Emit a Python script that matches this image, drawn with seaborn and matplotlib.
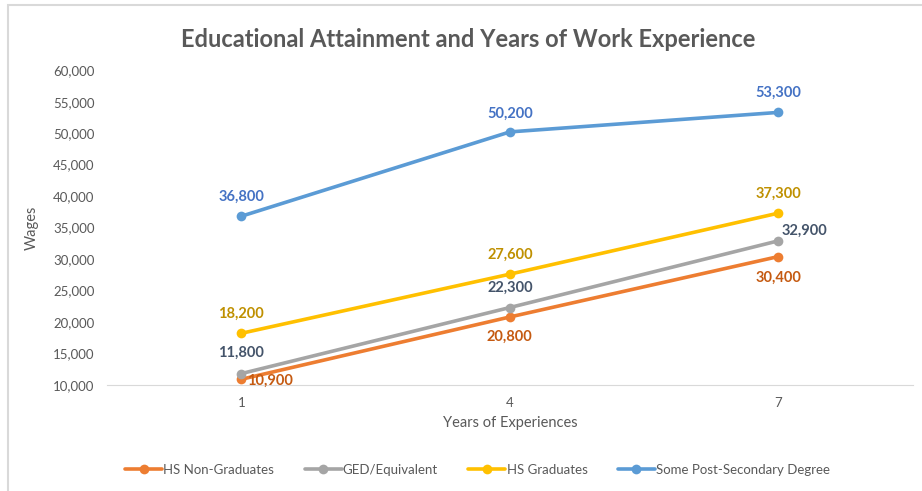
import pandas as pd
import matplotlib
matplotlib.use("Agg")
import matplotlib.pyplot as plt
import seaborn as sns

years = ["1", "4", "7"]
series_names = ["HS Non-Graduates", "GED/Equivalent", "HS Graduates", "Some Post-Secondary Degree"]
hs_non_grad = [10900, 20800, 30400]
ged_equiv = [11800, 22300, 32900]
hs_grad = [18200, 27600, 37300]
post_secondary = [36800, 50200, 53300]

line_colors = ["#ED7D31", "#A5A5A5", "#FFC000", "#5B9BD5"]
label_colors = ["#C55A11", "#44546A", "#BF9000", "#4472C4"]

sns.set_style("white")
plt.rcParams['font.family'] = ['Lato', 'DejaVu Sans']

values = [hs_non_grad, ged_equiv, hs_grad, post_secondary]
rows = []
for name, vals in zip(series_names, values):
    for i, v in enumerate(vals):
        rows.append({"pos": i, "series": name, "wage": v})
df = pd.DataFrame(rows)

fig = plt.figure(figsize=(9.22, 4.91), dpi=100)
ax = fig.add_axes([0.116, 0.216, 0.874, 0.641])

sns.lineplot(data=df, x="pos", y="wage", hue="series", hue_order=series_names,
             palette=line_colors, marker="o", markersize=7, markeredgewidth=0,
             linewidth=2.6, ax=ax)

# data label offsets in points (dx, dy)
offsets = {
    "HS Non-Graduates": [(21, -1), (0, -14), (0, -15)],
    "GED/Equivalent": [(0, 15), (0, 14), (19, 7)],
    "HS Graduates": [(0, 14), (0, 14), (0, 14)],
    "Some Post-Secondary Degree": [(0, 14), (0, 13), (0, 14)],
}
for name, vals, lc in zip(series_names, values, label_colors):
    for i, v in enumerate(vals):
        dx, dy = offsets[name][i]
        ax.annotate(f"{v:,}", (i, v), xytext=(dx, dy), textcoords="offset points",
                    ha="center", va="center", color=lc, fontsize=10.5, fontweight="bold")

ax.set_xlim(-0.5, 2.5)
ax.set_ylim(10000, 60000)
ax.set_xticks(range(len(years)))
ax.set_xticklabels(years)
ax.set_yticks(range(10000, 60001, 5000))
ax.yaxis.set_major_formatter(matplotlib.ticker.FuncFormatter(lambda v, p: f"{int(v):,}"))
ax.tick_params(axis="both", length=0, labelsize=9.5, labelcolor="#595959", pad=9)
for s in ["top", "right", "left"]:
    ax.spines[s].set_visible(False)
ax.spines["bottom"].set_color("#D9D9D9")
ax.set_xlabel("Years of Experiences", fontsize=10.5, color="#595959", labelpad=5)
ax.set_ylabel("Wages", fontsize=10.5, color="#595959", labelpad=10)

fig.text(0.508, 0.92, "Educational Attainment and Years of Work Experience",
         ha="center", va="center", fontsize=17, fontweight="bold", color="#595959")

handles, labels = ax.get_legend_handles_labels()
ax.legend(handles, labels, loc="center", bbox_to_anchor=(0.46, -0.27), ncol=4,
          frameon=False, fontsize=9.5, labelcolor="#595959", handlelength=2.8,
          handletextpad=0.1, columnspacing=2.3)

# outer frame like the source chart
fig.add_artist(plt.Rectangle((0.009, -0.01), 1.0, 1.0, transform=fig.transFigure,
                             fill=False, edgecolor="#D9D9D9", linewidth=1.5))

fig.savefig("out.png", dpi=100)
